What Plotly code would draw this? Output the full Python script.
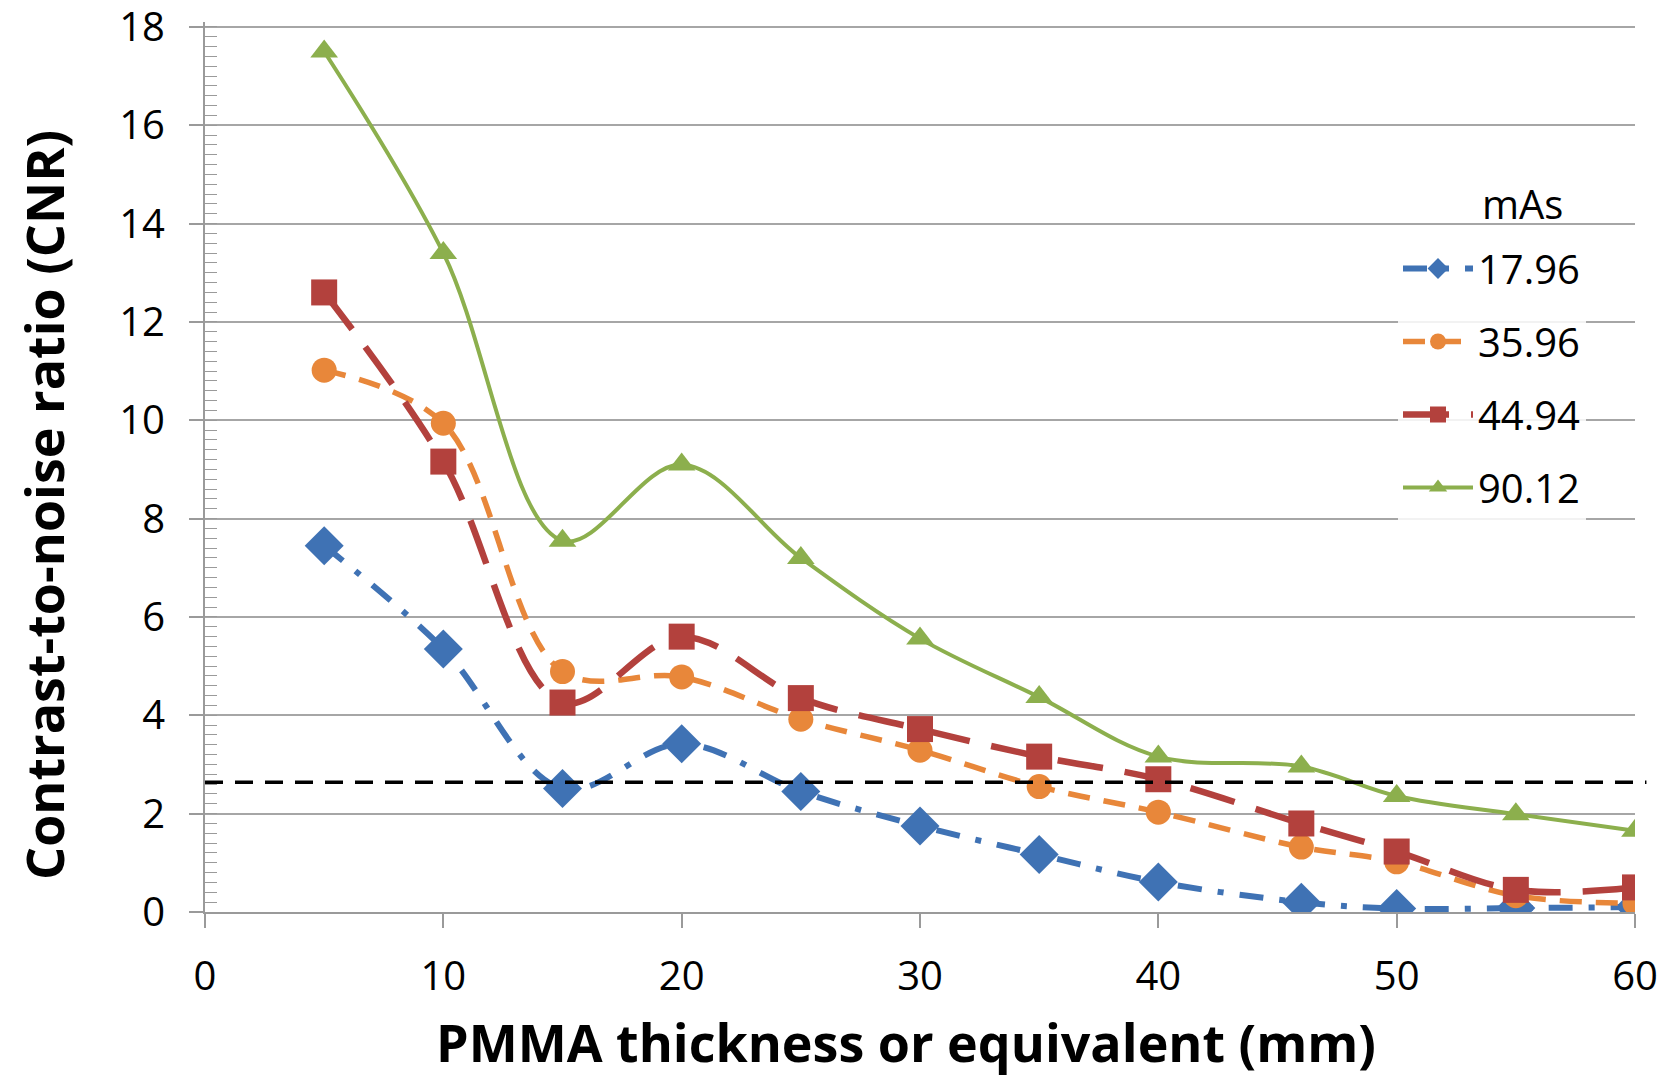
import plotly.graph_objects as go

thickness = [5, 10, 15, 20, 25, 30, 35, 40, 46, 50, 55, 60]
cnr_1796 = [7.45, 5.35, 2.51, 3.42, 2.45, 1.75, 1.17, 0.61, 0.20, 0.07, 0.08, 0.10]
cnr_3596 = [11.02, 9.94, 4.89, 4.78, 3.92, 3.29, 2.55, 2.03, 1.32, 1.02, 0.33, 0.18]
cnr_4494 = [12.6, 9.16, 4.26, 5.60, 4.35, 3.72, 3.16, 2.70, 1.80, 1.23, 0.45, 0.50]
cnr_9012 = [17.5, 13.4, 7.55, 9.10, 7.20, 5.56, 4.37, 3.16, 2.96, 2.36, 1.99, 1.65]
threshold = 2.64
series_names = ["17.96", "35.96", "44.94", "90.12"]
legend_title = "mAs"
x_title = "PMMA thickness or equivalent (mm)"
y_title = "Contrast-to-noise ratio (CNR)"

FONT = "Open Sans"
W, H = 1667, 1078
Y_MAX = 18.1
ML, MR, MT, MB = 205, 32, 22, 166
PW, PH = W - ML - MR, H - MT - MB

styles = [
    dict(color="#3F72B4", dash="24px,16px,6px,16px", width=6, symbol="diamond", size=30),
    dict(color="#E8873A", dash="22px,14px", width=5.5, symbol="circle", size=25),
    dict(color="#B3413D", dash="46px,22px", width=6.5, symbol="square", size=26),
    dict(color="#8CAF4D", dash="solid", width=4, symbol="triangle-up", size=24),
]
data = [cnr_1796, cnr_3596, cnr_4494, cnr_9012]

fig = go.Figure()
for i, (name, ys, st) in enumerate(zip(series_names, data, styles)):
    fig.add_trace(go.Scatter(
        x=thickness, y=ys, name=name, mode="lines+markers",
        line=dict(color=st["color"], dash=st["dash"], width=st["width"], shape="spline", smoothing=1.0),
        marker=dict(symbol=st["symbol"], size=st["size"], color=st["color"]),
        legendgroup="g%d" % i,
    ))

fig.add_shape(type="line", xref="paper", yref="y", x0=0, x1=1.008, y0=threshold, y1=threshold,
              line=dict(color="black", width=3.5, dash="18px,12px"))

def px_x(p):
    return (p - ML) / PW

def px_y(p):
    return (H - MB - p) / PH

fig.add_annotation(text=legend_title, xref="paper", yref="paper", x=px_x(1522), y=px_y(203),
                   showarrow=False, font=dict(family=FONT, size=40, color="black"), xanchor="center", yanchor="middle")
fig.add_annotation(text="<b>" + x_title + "</b>", xref="paper", yref="paper", x=px_x(906), y=px_y(1041),
                   showarrow=False, font=dict(family=FONT, size=52, color="black"), xanchor="center", yanchor="middle")
fig.add_annotation(text="<b>" + y_title + "</b>", xref="paper", yref="paper", x=px_x(43), y=px_y(505),
                   showarrow=False, textangle=-90, font=dict(family=FONT, size=52, color="black"),
                   xanchor="center", yanchor="middle")

fig.update_layout(
    width=W, height=H,
    margin=dict(l=ML, r=MR, t=MT, b=MB),
    paper_bgcolor="white", plot_bgcolor="white",
    font=dict(family=FONT, color="black"),
    showlegend=True,
    legend=dict(x=px_x(1398), y=px_y(236), xanchor="left", yanchor="top",
                font=dict(family=FONT, size=40, color="black"), bgcolor="rgba(255,255,255,0.85)",
                itemwidth=70, tracegroupgap=18, traceorder="grouped"),
    xaxis=dict(range=[0, 60], dtick=10, tick0=0, showgrid=False, showline=True, linecolor="#9A9A9A", linewidth=2,
               ticks="outside", ticklen=14, tickcolor="#9A9A9A", tickwidth=1.5, automargin=False,
               ticklabeloverflow="allow",
               tickfont=dict(family=FONT, size=40, color="black"), ticklabelstandoff=14,
               zeroline=False),
    yaxis=dict(range=[0, Y_MAX], dtick=2, tick0=0, showgrid=True, gridcolor="#A6A6A6", gridwidth=1.5,
               showline=True, linecolor="#9A9A9A", linewidth=2, automargin=False,
               ticklabeloverflow="allow",
               ticks="outside", ticklen=14, tickcolor="#9A9A9A", tickwidth=1.5,
               minor=dict(dtick=0.2, ticks="inside", ticklen=12, tickcolor="#9A9A9A", tickwidth=1, showgrid=False),
               tickfont=dict(family=FONT, size=40, color="black"), ticklabelstandoff=16,
               zeroline=False),
)

fig.write_html("out.html")
